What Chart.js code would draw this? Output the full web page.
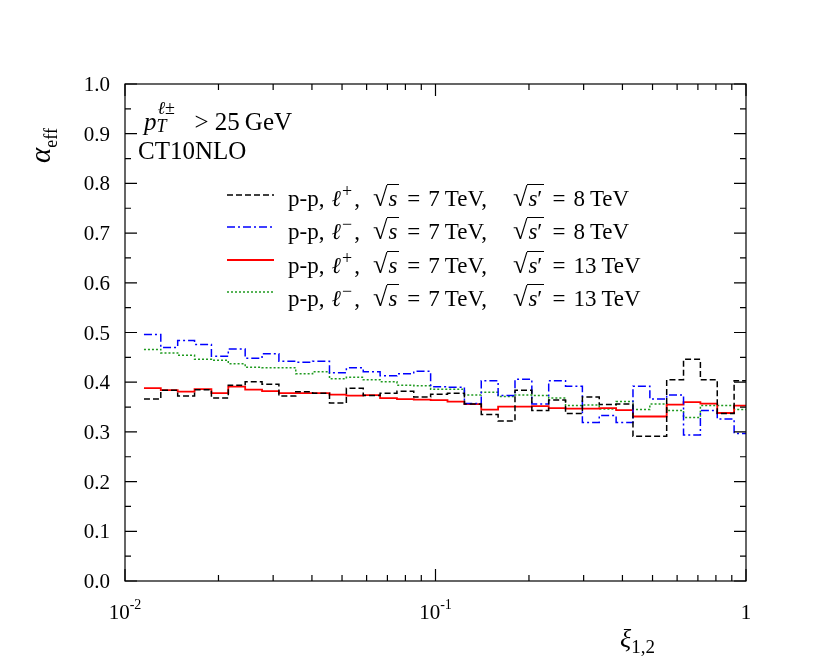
<!DOCTYPE html>
<html lang="en">
<head>
<meta charset="UTF-8">
<title>alpha_eff vs xi</title>
<script src="https://cdn.jsdelivr.net/npm/chart.js"></script>
<style>
  body { margin: 0; background: #fff; }
  #wrap { position: relative; width: 831px; height: 665px; font-family: "Liberation Serif", "DejaVu Serif", serif; color: #000; }
  #wrap canvas { position: absolute; left: 0; top: 0; }
  .txt { position: absolute; white-space: nowrap; line-height: 1; }
  .leg { font-size: 23px; }
  .rad { font-size: 1.15em; }
  .ov { border-top: 1.2px solid #000; padding-top: 1px; padding-right: 2px; padding-left: 1px; }
  .eq { margin: 0 8px; }
  .g1 { display: inline-block; width: 7px; }
  .g2 { display: inline-block; width: 13px; }
  .g3 { display: inline-block; width: 26px; }
  .th { display: inline-block; width: 5px; }
  sup, sub { font-size: 0.72em; line-height: 0; }
  .leg sup { margin-left: 1px; margin-right: 2px; font-size: 0.78em; }
</style>
</head>
<body>
<div id="wrap">
  <canvas id="grafico" width="831" height="665"></canvas>

  <div class="txt" style="left:144px; top:105px; font-size:25px;">
    <i>p</i><span style="position:relative; display:inline-block; width:38px; height:1em;"><span style="position:absolute; left:1px; top:-6px; font-size:18px;"><i>ℓ</i>±</span><span style="position:absolute; left:0; top:12px; font-size:18px;"><i>T</i></span></span>&gt; 25<span class="th"></span>GeV
  </div>
  <div class="txt" style="left:138px; top:138px; font-size:25px;">CT10NLO</div>

  <div class="txt leg" style="left:288px; top:184px;">p-p,<span class="g1"></span><i>ℓ</i><sup>+</sup>,<span class="g2"></span><span class="rad">√</span><span class="ov"><i>s</i></span><span class="eq">=</span>7<span class="th"></span>TeV,<span class="g3"></span><span class="rad">√</span><span class="ov"><i>s</i>′</span><span class="eq">=</span>8<span class="th"></span>TeV</div>
  <div class="txt leg" style="left:288px; top:217px;">p-p,<span class="g1"></span><i>ℓ</i><sup>−</sup>,<span class="g2"></span><span class="rad">√</span><span class="ov"><i>s</i></span><span class="eq">=</span>7<span class="th"></span>TeV,<span class="g3"></span><span class="rad">√</span><span class="ov"><i>s</i>′</span><span class="eq">=</span>8<span class="th"></span>TeV</div>
  <div class="txt leg" style="left:288px; top:251px;">p-p,<span class="g1"></span><i>ℓ</i><sup>+</sup>,<span class="g2"></span><span class="rad">√</span><span class="ov"><i>s</i></span><span class="eq">=</span>7<span class="th"></span>TeV,<span class="g3"></span><span class="rad">√</span><span class="ov"><i>s</i>′</span><span class="eq">=</span>13<span class="th"></span>TeV</div>
  <div class="txt leg" style="left:288px; top:284px;">p-p,<span class="g1"></span><i>ℓ</i><sup>−</sup>,<span class="g2"></span><span class="rad">√</span><span class="ov"><i>s</i></span><span class="eq">=</span>7<span class="th"></span>TeV,<span class="g3"></span><span class="rad">√</span><span class="ov"><i>s</i>′</span><span class="eq">=</span>13<span class="th"></span>TeV</div>

  <div class="txt" style="left:0; top:0; font-size:29px; transform-origin:0 0; transform:translate(26px,163px) rotate(-90deg);"><i>α</i><sub style="font-size:18px;">eff</sub></div>
  <div class="txt" style="left:620px; top:626px; font-size:26px;"><i>ξ</i><sub style="font-size:19px;">1,2</sub></div>
</div>

<script>
// bin edges in xi (log-spaced histogram, last bin cut at 1)
const xEdges = [0.01151, 0.01304, 0.01478, 0.01675, 0.01898, 0.02151, 0.02438, 0.02763,
  0.03131, 0.03548, 0.04020, 0.04556, 0.05163, 0.05851, 0.06631, 0.07514, 0.08511,
  0.09645, 0.1093, 0.1239, 0.1404, 0.1591, 0.1803, 0.2043, 0.2315, 0.2623, 0.2972,
  0.3368, 0.3817, 0.4325, 0.4902, 0.5553, 0.6292, 0.7130, 0.8080, 0.9156, 1.0];

const seriesLabels = ['lp8', 'lm8', 'lp13', 'lm13'];

// p-p, l+, 7 -> 8 TeV
const lPlus8 = [0.366, 0.384, 0.372, 0.385, 0.368, 0.394, 0.401, 0.396, 0.372, 0.381,
  0.378, 0.358, 0.388, 0.373, 0.378, 0.382, 0.370, 0.376, 0.378, 0.356, 0.335, 0.322,
  0.384, 0.343, 0.364, 0.337, 0.370, 0.355, 0.356, 0.291, 0.291, 0.405, 0.446, 0.405,
  0.337, 0.403];
// p-p, l-, 7 -> 8 TeV
const lMinus8 = [0.496, 0.470, 0.484, 0.476, 0.452, 0.467, 0.448, 0.457, 0.442, 0.440,
  0.442, 0.419, 0.429, 0.421, 0.413, 0.417, 0.422, 0.391, 0.390, 0.357, 0.403, 0.373,
  0.406, 0.356, 0.403, 0.392, 0.319, 0.333, 0.319, 0.392, 0.366, 0.374, 0.294, 0.343,
  0.326, 0.297];
// p-p, l+, 7 -> 13 TeV
const lPlus13 = [0.388, 0.384, 0.381, 0.386, 0.378, 0.391, 0.385, 0.382, 0.378, 0.378,
  0.378, 0.375, 0.373, 0.374, 0.368, 0.366, 0.365, 0.364, 0.361, 0.356, 0.345, 0.351,
  0.351, 0.352, 0.348, 0.347, 0.347, 0.348, 0.344, 0.331, 0.331, 0.355, 0.360, 0.357,
  0.338, 0.353];
// p-p, l-, 7 -> 13 TeV
const lMinus13 = [0.466, 0.459, 0.454, 0.446, 0.444, 0.437, 0.430, 0.429, 0.429, 0.417,
  0.421, 0.407, 0.410, 0.405, 0.401, 0.394, 0.393, 0.386, 0.386, 0.374, 0.380, 0.371,
  0.374, 0.373, 0.368, 0.353, 0.354, 0.346, 0.361, 0.345, 0.356, 0.343, 0.329, 0.353,
  0.353, 0.345];

const xMajorTicks = [0.01, 0.1, 1];
const xMinorTicks = [0.02, 0.03, 0.04, 0.05, 0.06, 0.07, 0.08, 0.09,
  0.2, 0.3, 0.4, 0.5, 0.6, 0.7, 0.8, 0.9];
const xTickLabels = [['10', '-2'], ['10', '-1'], ['1', '']];
const yTickLabels = ['0.0', '0.1', '0.2', '0.3', '0.4', '0.5', '0.6', '0.7', '0.8', '0.9', '1.0'];
const yMinorTicks = [0.05, 0.15, 0.25, 0.35, 0.45, 0.55, 0.65, 0.75, 0.85, 0.95];

// histogram -> step points (value of bin i held until edge i+1)
function steps(vals) {
  return xEdges.map((e, i) => ({ x: e, y: vals[Math.min(i, vals.length - 1)] }));
}

const legendY = [195, 227, 260, 292];

const axisFrame = {
  id: 'axisFrame',
  afterDraw(chart) {
    const { ctx, chartArea: a } = chart;
    const sx = chart.scales.x, sy = chart.scales.y;
    ctx.save();
    ctx.strokeStyle = '#000';
    ctx.lineWidth = 1.2;
    ctx.beginPath();
    xMajorTicks.concat(xMinorTicks).forEach(v => {
      const px = sx.getPixelForValue(v);
      const len = xMajorTicks.includes(v) ? 12 : 6;
      ctx.moveTo(px, a.bottom); ctx.lineTo(px, a.bottom - len);
      ctx.moveTo(px, a.top); ctx.lineTo(px, a.top + len);
    });
    yTickLabels.map(parseFloat).concat(yMinorTicks).forEach((v, i) => {
      const py = sy.getPixelForValue(v);
      const len = i < yTickLabels.length ? 12 : 6;
      ctx.moveTo(a.left, py); ctx.lineTo(a.left + len, py);
      ctx.moveTo(a.right, py); ctx.lineTo(a.right - len, py);
    });
    ctx.stroke();
    ctx.strokeRect(a.left, a.top, a.right - a.left, a.bottom - a.top);

    ctx.fillStyle = '#000';
    ctx.font = '21px "Liberation Serif", serif';
    ctx.textAlign = 'right';
    ctx.textBaseline = 'alphabetic';
    yTickLabels.forEach(t => {
      ctx.fillText(t, a.left - 15, sy.getPixelForValue(parseFloat(t)) + 7);
    });

    ctx.textAlign = 'left';
    xMajorTicks.forEach((v, i) => {
      const [base, exp] = xTickLabels[i];
      ctx.font = '21px "Liberation Serif", serif';
      const wb = ctx.measureText(base).width;
      ctx.font = '14px "Liberation Serif", serif';
      const we = exp ? ctx.measureText(exp).width : 0;
      const x0 = sx.getPixelForValue(v) - (wb + we) / 2;
      ctx.font = '21px "Liberation Serif", serif';
      ctx.fillText(base, x0, 619);
      if (exp) {
        ctx.font = '14px "Liberation Serif", serif';
        ctx.fillText(exp, x0 + wb, 609);
      }
    });

    // legend line samples, same style as the datasets
    chart.data.datasets.forEach((ds, i) => {
      ctx.beginPath();
      ctx.strokeStyle = ds.borderColor;
      ctx.lineWidth = ds.borderWidth;
      ctx.setLineDash(ds.borderDash || []);
      ctx.moveTo(227, legendY[i]);
      ctx.lineTo(274, legendY[i]);
      ctx.stroke();
    });
    ctx.restore();
  }
};

const ctx = document.getElementById('grafico').getContext('2d');
const grafico = new Chart(ctx, {
  type: 'line',
  data: {
    datasets: [
      { label: seriesLabels[0], data: steps(lPlus8), borderColor: '#000000', borderWidth: 1.5, borderDash: [6, 3] },
      { label: seriesLabels[1], data: steps(lMinus8), borderColor: '#0000ff', borderWidth: 1.5, borderDash: [8, 3, 2, 3] },
      { label: seriesLabels[2], data: steps(lPlus13), borderColor: '#ff0000', borderWidth: 1.8, borderDash: [] },
      { label: seriesLabels[3], data: steps(lMinus13), borderColor: '#1f9a1f', borderWidth: 1.5, borderDash: [2, 2] }
    ]
  },
  options: {
    responsive: false,
    animation: false,
    layout: { padding: { left: 125, right: 85, top: 84, bottom: 84 } },
    elements: { point: { radius: 0 }, line: { stepped: true, tension: 0, fill: false } },
    plugins: { legend: { display: false }, tooltip: { enabled: false } },
    scales: {
      x: { type: 'logarithmic', min: 0.01, max: 1, display: false },
      y: { type: 'linear', min: 0, max: 1, display: false }
    }
  },
  plugins: [axisFrame]
});
</script>
</body>
</html>
